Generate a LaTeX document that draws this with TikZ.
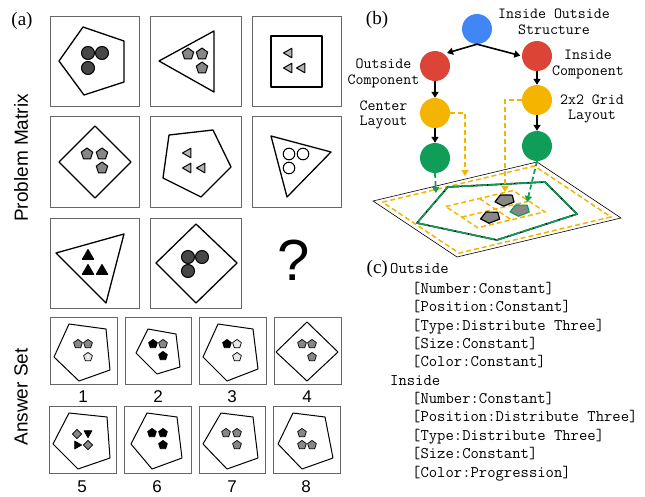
\documentclass[tikz,border=0pt]{standalone}
\usepackage{fontspec}
\setmainfont{Liberation Serif}
\newfontfamily\hvfont{Liberation Sans}
\usetikzlibrary{arrows.meta}
\definecolor{gblue}{HTML}{4285F4}
\definecolor{gred}{HTML}{DB4437}
\definecolor{gyellow}{HTML}{F4B400}
\definecolor{ggreen}{HTML}{0F9D58}
\definecolor{dkgray}{HTML}{474747}
\definecolor{mdgray}{HTML}{878787}
\definecolor{ltgray}{HTML}{B4B4B4}
\definecolor{pale}{HTML}{E8E8E8}
\newcommand\pgon[4]{\path[#4,shift={(#1,#2)}] (-90:#3)--(-18:#3)--(54:#3)--(126:#3)--(198:#3)--cycle;}
\newcommand\trig[5]{\path[#5,shift={(#1,#2)},rotate=#4] (-90:#3)--(30:#3)--(150:#3)--cycle;}
\newcommand\dmd[4]{\path[#4,shift={(#1,#2)}] (0:#3)--(90:#3)--(180:#3)--(270:#3)--cycle;}
\begin{document}
\begin{tikzpicture}[x=1pt,y=-1pt,
  frame/.style={draw=black!60, line width=0.8pt},
  big/.style={draw=black, line width=1.3pt, line join=round},
  abig/.style={draw=black, line width=1pt, line join=round},
  item/.style={draw=black, line width=1pt, line join=round},
  aitem/.style={draw=black, line width=0.7pt, line join=round},
  sans/.style={font=\hvfont\fontsize{19}{20}\selectfont},
  num/.style={font=\hvfont\fontsize{17}{18}\selectfont},
  lab/.style={font=\fontsize{19}{20}\selectfont},
  tt/.style={font=\ttfamily\fontsize{16.2}{18}\selectfont, inner sep=0pt, anchor=base},
  ttl/.style={tt, anchor=base west},
  tt2/.style={font=\ttfamily\fontsize{15.5}{15.5}\selectfont, inner sep=0pt, align=center},
  dot/.style={circle, minimum size=30pt, inner sep=0pt},
  arr/.style={-{Triangle[length=6pt,width=7pt]}, line width=1.6pt},
  odash/.style={draw=gyellow, line width=1.8pt, dash pattern=on 5pt off 3pt, -{Triangle[length=6pt,width=7pt]}},
  gdash/.style={draw=ggreen, line width=1.8pt, dash pattern=on 5pt off 3pt, -{Triangle[length=6pt,width=7pt]}}]
\useasboundingbox (0,0) rectangle (645,496);

% ---------- panel (a) ----------
\node[lab] (la) at (22,21) {(a)};
\node[sans, rotate=90] (pm) at (21,158) {Problem Matrix};
\node[sans, rotate=90] (as) at (21,397) {Answer Set};

\draw[frame] (50,16) rectangle (139,106);
\draw[frame] (150,16) rectangle (241,106);
\draw[frame] (252,16) rectangle (341,106);
\draw[frame] (50,116) rectangle (139,207);
\draw[frame] (150,116) rectangle (241,207);
\draw[frame] (252,116) rectangle (341,207);
\draw[frame] (50,218) rectangle (139,308);
\draw[frame] (150,218) rectangle (241,308);

% r1c1
\draw[big] (83,27)--(124,41)--(124,82)--(84,95)--(59,61)--cycle;
\foreach \p in {(88,53),(102,53),(88,68)} \draw[item, fill=dkgray] \p circle (6.5);
% r1c2
\draw[big] (159,61)--(214,31)--(214,92)--cycle;
\pgon{188}{54}{6}{item, fill=mdgray}
\pgon{202}{54}{6}{item, fill=mdgray}
\pgon{202}{68}{6}{item, fill=mdgray}
% r1c3
\draw[big] (271,36) rectangle (322,87);
\trig{289}{53}{5.5}{90}{item, fill=ltgray}
\trig{289}{68}{5.5}{90}{item, fill=ltgray}
\trig{302}{68}{5.5}{90}{item, fill=ltgray}
% r2c1
\draw[big] (95,126)--(131,162)--(95,198)--(59,162)--cycle;
\pgon{87}{154}{6}{item, fill=mdgray}
\pgon{102}{154}{6}{item, fill=mdgray}
\pgon{102}{168}{6}{item, fill=mdgray}
% r2c2
\draw[big] (169,135)--(213,130)--(231,167)--(201,197)--(163,178)--cycle;
\trig{188}{153}{5.5}{90}{item, fill=ltgray}
\trig{188}{168}{5.5}{90}{item, fill=ltgray}
\trig{202}{168}{5.5}{90}{item, fill=ltgray}
% r2c3
\draw[big] (271,136)--(331,152)--(287,197)--cycle;
\foreach \p in {(289,154),(303,154),(289,168)} \draw[item, fill=white] \p circle (5.8);
% r3c1
\draw[big] (56,253)--(124,234)--(106,303)--cycle;
\trig{88}{256}{6.5}{0}{item, fill=black}
\trig{88}{271}{6.5}{0}{item, fill=black}
\trig{102}{271}{6.5}{0}{item, fill=black}
% r3c2
\draw[big] (196,224)--(237,263)--(196,303)--(156,263)--cycle;
\foreach \p in {(188,257),(202,257),(188,271)} \draw[item, fill=dkgray] \p circle (6.5);
% question mark
\node[font=\hvfont\fontsize{58}{60}\selectfont, inner sep=0pt] (qm) at (293.5,260) {?};

% answer set frames
\draw[frame] (50,317) rectangle (117,384);
\draw[frame] (125,317) rectangle (191,384);
\draw[frame] (199,317) rectangle (266,384);
\draw[frame] (274,317) rectangle (341,384);
\draw[frame] (49,406) rectangle (116,473);
\draw[frame] (124,406) rectangle (191,473);
\draw[frame] (199,406) rectangle (265,473);
\draw[frame] (273,406) rectangle (340,473);

% A1
\draw[abig] (69,324)--(106,329)--(110,370)--(79,381)--(54,357)--cycle;
\pgon{78}{344}{4.6}{aitem, fill=mdgray}
\pgon{88}{344}{4.6}{aitem, fill=mdgray}
\pgon{88}{357}{4.6}{aitem, fill=pale}
% A2
\draw[abig] (148,329)--(176,334)--(180,367)--(157,374)--(136,353)--cycle;
\pgon{153}{344}{4.6}{aitem, fill=black}
\pgon{163}{344}{4.6}{aitem, fill=mdgray}
\pgon{163}{356}{4.6}{aitem, fill=black}
% A3
\draw[abig] (218,324)--(253,329)--(258,369)--(227,381)--(203,357)--cycle;
\pgon{227}{344}{4.6}{aitem, fill=black}
\pgon{237}{344}{4.6}{aitem, fill=pale}
\pgon{237}{357}{4.6}{aitem, fill=pale}
% A4
\draw[abig] (307,322)--(338,352)--(307,381)--(276,352)--cycle;
\pgon{302}{344}{4.6}{aitem, fill=mdgray}
\pgon{312}{344}{4.6}{aitem, fill=mdgray}
\pgon{312}{357}{4.6}{aitem, fill=mdgray}
% A5
\draw[abig] (69,413)--(107,417)--(110,458)--(78,469)--(53,444)--cycle;
\dmd{77}{434}{4.6}{aitem, fill=mdgray}
\trig{88}{433}{4.6}{180}{aitem, fill=black}
\trig{77}{445}{4.6}{-90}{aitem, fill=black}
\dmd{88}{445}{4.6}{aitem, fill=mdgray}
% A6
\draw[abig] (147,413)--(177,417)--(182,458)--(152,469)--(131,444)--cycle;
\pgon{152}{433}{4.6}{aitem, fill=black}
\pgon{163}{433}{4.6}{aitem, fill=black}
\pgon{163}{445}{4.6}{aitem, fill=black}
% A7
\draw[abig] (221,413)--(253,417)--(258,458)--(227,469)--(203,444)--cycle;
\pgon{226}{433}{4.6}{aitem, fill=mdgray}
\pgon{237}{433}{4.6}{aitem, fill=mdgray}
\pgon{237}{445}{4.6}{aitem, fill=mdgray}
% A8
\draw[abig] (293,413)--(325,417)--(333,458)--(302,469)--(278,444)--cycle;
\pgon{302}{433}{4.6}{aitem, fill=mdgray}
\pgon{302}{445}{4.6}{aitem, fill=mdgray}
\pgon{312}{445}{4.6}{aitem, fill=mdgray}

% answer numbers
\node[num] (n1) at (83,397) {1};
\node[num] (n2) at (158,397) {2};
\node[num] (n3) at (232,397) {3};
\node[num] (n4) at (307,397) {4};
\node[num] (n5) at (82,487) {5};
\node[num] (n6) at (157,487) {6};
\node[num] (n7) at (232,487) {7};
\node[num] (n8) at (306,487) {8};

% ---------- panel (b) ----------
\node[lab] (lb) at (377,20) {(b)};

% plane
\begin{scope}[shift={(373,201)}, x={(164pt,39pt)}, y={(84pt,-56pt)}]
  \draw[black, line width=0.6pt] (0,0)--(1,0)--(1,1)--(0,1)--cycle;
  \draw[gyellow, line width=1.5pt, dash pattern=on 5pt off 3pt] (0.035,0.045)--(0.962,0.045)--(0.962,0.955)--(0.035,0.955)--cycle;
  \draw[black, line width=1.6pt, line join=round] (0.431,0.05)--(0.901,0.288)--(0.829,0.81)--(0.294,0.901)--(0.049,0.427)--cycle;
  \draw[ggreen, line width=1.6pt, line join=round, dash pattern=on 12pt off 1.5pt] (0.431,0.05)--(0.901,0.288)--(0.829,0.81)--(0.294,0.901)--(0.049,0.427)--cycle;
  \draw[gyellow, line width=1.5pt, dash pattern=on 5pt off 3pt] (0.29,0.30)--(0.70,0.30)--(0.70,0.68)--(0.29,0.68)--cycle;
  \draw[gyellow, line width=1.5pt, dash pattern=on 5pt off 3pt] (0.495,0.30)--(0.495,0.68);
  \draw[gyellow, line width=1.5pt, dash pattern=on 5pt off 3pt] (0.29,0.49)--(0.70,0.49);
  \foreach \c/\col in {{(0.6,0.4)}/black, {(0.42,0.58)}/black, {(0.6,0.58)}/ggreen}
    \draw[draw=\col, fill=mdgray, line width=1.2pt, line join=round, shift={\c}, xscale=0.055, yscale=0.09]
      (-90:1)--(-18:1)--(54:1)--(126:1)--(198:1)--cycle;
\end{scope}

\node[dot, fill=gblue] (blue) at (477,29) {};
\node[dot, fill=gred] (redL) at (435,66) {};
\node[dot, fill=gred] (redR) at (537,56) {};
\node[dot, fill=gyellow] (yelL) at (435,113) {};
\node[dot, fill=gyellow] (yelR) at (537,100) {};
\node[dot, fill=ggreen] (grnL) at (435,158) {};
\node[dot, fill=ggreen] (grnR) at (537,146) {};

\coordinate (aL) at (447,53);
\draw[arr] (blue.south) -- (aL);
\draw[arr, shorten >=1.5pt] (blue.south) -- (redR.west);
\draw[arr] (redL) -- (yelL);
\draw[arr] (yelL) -- (grnL);
\draw[arr] (redR) -- (yelR);
\draw[arr] (yelR) -- (grnR);

\coordinate (oL) at (465,176);
\coordinate (oR) at (505,192);
\draw[odash] (yelL.east) -| (oL);
\draw[odash] (yelR.west) -| (oR);
\coordinate (gL) at (436,193);
\coordinate (gR) at (527,202);
\draw[gdash] (grnL.south) -- (gL);
\draw[gdash] (grnR.south) -- (gR);

\node[tt2] (t1) at (554,21.6) {Inside Outside\\Structure};
\node[tt2] (t3) at (383.5,73.4) {Outside\\Component};
\node[tt2] (t5) at (588,64.4) {Inside\\Component};
\node[tt2] (t7) at (383.5,114.9) {Center\\Layout};
\node[tt2] (t9) at (592,109.1) {2x2 Grid\\Layout};

% ---------- panel (c) ----------
\node[lab, anchor=base east, inner sep=0pt] (lc) at (388,273) {(c)};
\node[ttl] (c1) at (390,273) {Outside};
\node[ttl] (c2) at (412,293.5) {[Number:Constant]};
\node[ttl] (c3) at (412,311.5) {[Position:Constant]};
\node[ttl] (c4) at (412,330.2) {[Type:Distribute Three]};
\node[ttl] (c5) at (412,348.2) {[Size:Constant]};
\node[ttl] (c6) at (412,366.5) {[Color:Constant]};
\node[ttl] (c7) at (390,385.7) {Inside};
\node[ttl] (c8) at (412,403.5) {[Number:Constant]};
\node[ttl] (c9) at (412,421.5) {[Position:Distribute Three]};
\node[ttl] (c10) at (412,440) {[Type:Distribute Three]};
\node[ttl] (c11) at (412,458.2) {[Size:Constant]};
\node[ttl] (c12) at (412,477) {[Color:Progression]};
\end{tikzpicture}
\end{document}
